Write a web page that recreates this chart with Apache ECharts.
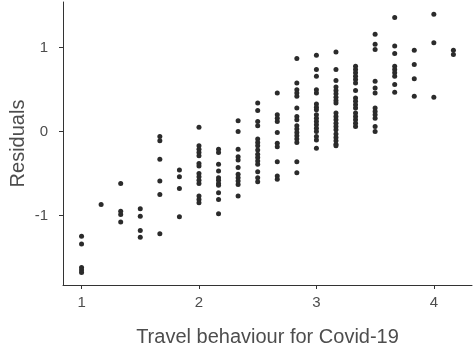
<!DOCTYPE html>
<html>
<head>
<meta charset="utf-8">
<script src="https://cdn.jsdelivr.net/npm/echarts@6/dist/echarts.min.js"></script>
<style>
  html, body { margin: 0; padding: 0; background: #ffffff; }
  #chart { width: 473px; height: 347px; }
</style>
</head>
<body>
<div id="chart"></div>
<script>
// Travel-behaviour score levels (mean of six items, steps of 1/6)
const behaviourLevels = [1, 7/6, 4/3, 1.5, 5/3, 11/6, 2, 13/6, 7/3, 2.5, 8/3, 17/6,
                         3, 19/6, 10/3, 3.5, 11/3, 23/6, 4, 25/6];

// Model residuals observed at each level
const residualsAt = [
  [-1.25, -1.34, -1.62, -1.65, -1.68],
  [-0.87],
  [-0.62, -0.95, -0.99, -1.08],
  [-0.92, -1.01, -1.18, -1.26],
  [-0.06, -0.11, -0.33, -0.59, -0.75, -1.22],
  [-0.46, -0.54, -0.68, -1.015],
  [0.05, -0.17, -0.21, -0.25, -0.29, -0.38, -0.41, -0.50, -0.54, -0.58, -0.62, -0.77, -0.81, -0.85],
  [-0.21, -0.25, -0.39, -0.47, -0.55, -0.58, -0.62, -0.64, -0.73, -0.81, -0.98],
  [0.13, 0.0, -0.21, -0.30, -0.34, -0.43, -0.51, -0.55, -0.59, -0.63, -0.77],
  [0.34, 0.25, 0.12, 0.07, -0.09, -0.13, -0.17, -0.22, -0.27, -0.31, -0.35, -0.39, -0.48, -0.55, -0.60],
  [0.46, 0.20, 0.16, 0.12, -0.01, -0.14, -0.18, -0.36, -0.53, -0.57],
  [0.87, 0.58, 0.50, 0.46, 0.42, 0.28, 0.18, 0.14, 0.07, 0.03, -0.01, -0.05, -0.09, -0.13, -0.36, -0.49],
  [0.91, 0.74, 0.66, 0.50, 0.46, 0.33, 0.29, 0.26, 0.20, 0.16, 0.12, 0.08, 0.04, 0.0, -0.06, -0.10, -0.20],
  [0.95, 0.74, 0.61, 0.53, 0.49, 0.45, 0.41, 0.37, 0.34, 0.22, 0.18, 0.14, 0.10, 0.06, 0.02, -0.03, -0.07, -0.11, -0.15, -0.17],
  [0.78, 0.74, 0.70, 0.66, 0.62, 0.58, 0.49, 0.40, 0.36, 0.32, 0.28, 0.22, 0.18, 0.14, 0.10, 0.06],
  [1.16, 1.04, 0.98, 0.60, 0.52, 0.46, 0.28, 0.24, 0.20, 0.16, 0.06, 0.0],
  [1.36, 1.02, 0.93, 0.78, 0.74, 0.70, 0.66, 0.56, 0.47],
  [0.97, 0.80, 0.63, 0.42],
  [1.40, 1.06, 0.41],
  [0.97, 0.92]
];

// Tick positions shown on each axis
const xTicks = [1, 2, 3, 4];
const yTicks = [-1, 0, 1];

const points = [];
behaviourLevels.forEach((x, i) => {
  residualsAt[i].forEach(r => points.push([x, r]));
});

const textColor = '#4d4d4d';
const fontFamily = '"Liberation Sans", Arial, sans-serif';

const chart = echarts.init(document.getElementById('chart'), null, { renderer: 'canvas' });
chart.setOption({
  animation: false,
  backgroundColor: '#ffffff',
  grid: { left: 63, right: 1, top: 2, bottom: 62, containLabel: false, outerBoundsMode: 'none' },
  xAxis: {
    type: 'value',
    min: 0.842,
    max: 4.325,
    name: 'Travel behaviour for Covid-19',
    nameLocation: 'middle',
    nameGap: 42,
    nameMoveOverlap: false,
    nameTextStyle: { color: textColor, fontSize: 20, fontFamily: fontFamily },
    splitLine: { show: false },
    axisLine: { show: true, onZero: false, lineStyle: { color: '#333333', width: 1 } },
    axisTick: { show: true, length: 4, customValues: xTicks, lineStyle: { color: '#333333' } },
    axisLabel: { customValues: xTicks, color: textColor, fontSize: 15, margin: 10, fontFamily: fontFamily }
  },
  yAxis: {
    type: 'value',
    min: -1.83,
    max: 1.545,
    name: 'Residuals',
    nameLocation: 'middle',
    nameGap: 35,
    nameMoveOverlap: false,
    nameRotate: 90,
    nameTextStyle: { color: textColor, fontSize: 20, fontFamily: fontFamily },
    splitLine: { show: false },
    axisLine: { show: true, onZero: false, lineStyle: { color: '#333333', width: 1 } },
    axisTick: { show: true, length: 4, customValues: yTicks, lineStyle: { color: '#333333' } },
    axisLabel: { customValues: yTicks, color: textColor, fontSize: 15, margin: 15, fontFamily: fontFamily }
  },
  series: [{
    type: 'scatter',
    data: points,
    symbol: 'circle',
    symbolSize: 5,
    itemStyle: { color: '#2b2b2b', opacity: 1 }
  }]
});
</script>
</body>
</html>
